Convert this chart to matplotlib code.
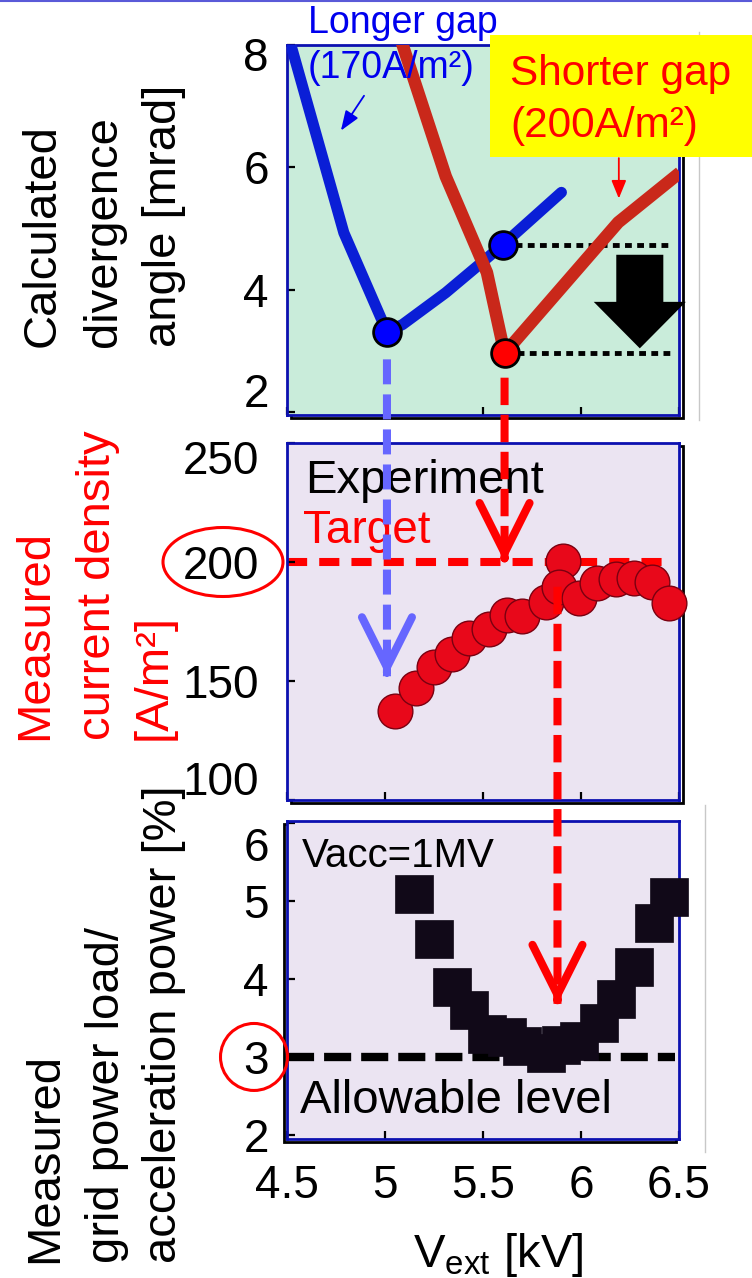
import matplotlib
matplotlib.use('Agg')
import matplotlib.pyplot as plt
import matplotlib.transforms as mtransforms
from matplotlib.patches import Rectangle, Ellipse, ConnectionPatch
from matplotlib.lines import Line2D

plt.rcParams['font.family'] = ['Liberation Sans', 'DejaVu Sans']
plt.rcParams['mathtext.fontset'] = 'custom'
plt.rcParams['mathtext.rm'] = 'Liberation Sans'
plt.rcParams['mathtext.it'] = 'Liberation Sans:italic'

# ---- data ----
# calculated divergence angle [mrad] vs Vext [kV]
longer_gap_v = [4.52, 4.79, 5.01, 5.09, 5.31, 5.60, 5.90]
longer_gap_div = [8.0, 4.93, 3.31, 3.43, 3.95, 4.73, 5.59]
shorter_gap_v = [5.09, 5.31, 5.52, 5.61, 6.19, 6.48]
shorter_gap_div = [8.0, 5.85, 4.28, 2.96, 5.10, 5.85]
longer_pts_v = [5.01, 5.60]
longer_pts_div = [3.31, 4.73]
shorter_pt_v = [5.61]
shorter_pt_div = [2.96]

# measured current density [A/m2]
exp_v = [5.05, 5.16, 5.25, 5.34, 5.43, 5.53, 5.62, 5.70, 5.82, 5.91, 5.89,
         5.99, 6.08, 6.18, 6.27, 6.36, 6.45]
exp_j = [137.4, 147.2, 156.0, 161.2, 167.9, 172.0, 177.7, 177.3, 183.3, 200.5,
         189.6, 184.7, 191.3, 192.7, 193.2, 191.7, 182.6]
target_j = 200

# measured grid power load / acceleration power [%]
load_v = [5.15, 5.25, 5.34, 5.43, 5.52, 5.62, 5.70, 5.82, 5.90, 5.99, 6.09,
          6.18, 6.27, 6.37, 6.45]
load_pct = [5.09, 4.51, 3.90, 3.60, 3.29, 3.26, 3.14, 3.05, 3.15, 3.21, 3.43,
            3.74, 4.15, 4.71, 5.05]
allowable_pct = 3

# where the guide arrows point
longer_gap_j = 152
best_v = 5.88
best_load = 3.68

x_ticks = [4.5, 5, 5.5, 6, 6.5]
x_tick_labels = ['4.5', '5', '5.5', '6', '6.5']
div_ticks = [2, 4, 6, 8]
j_ticks = [100, 150, 200, 250]
load_ticks = [2, 3, 4, 5, 6]

# ---- figure, laid out in pixels ----
W, H = 752, 1278
fig = plt.figure(figsize=(W / 100, H / 100), dpi=100)


def box(left, top, right, bottom):
    return [left / W, 1 - bottom / H, (right - left) / W, (bottom - top) / H]


def fx(px):
    return px / W


def fy(py):
    return 1 - py / H


ax1 = fig.add_axes(box(287, 45, 679, 415))
ax2 = fig.add_axes(box(287, 443, 679, 800))
ax3 = fig.add_axes(box(287, 821, 679, 1139))

for ax, bg in ((ax1, '#c9ecda'), (ax2, '#ebe4f2'), (ax3, '#ebe4f2')):
    ax.set_facecolor(bg)
    ax.set_xlim(4.5, 6.5)
    ax.set_xticks(x_ticks)
    for s in ax.spines.values():
        s.set_color('#0c10b0')
        s.set_linewidth(2)
    ax.tick_params(direction='in', length=6, width=1.6, colors='black',
                   labelsize=33, top=False, right=False)

# black "shadow" frame lines
for ax, dx, dy in ((ax1, 4, -3), (ax2, 4, -3), (ax3, -3, -3)):
    tr = mtransforms.offset_copy(ax.transAxes, fig=fig, x=dx, y=dy, units='dots')
    fig.add_artist(Rectangle((0, 0), 1, 1, transform=tr, fill=False,
                             ec='black', lw=2, zorder=-1))

# ---- top: calculated divergence ----
ax1.set_ylim(1.95, 8.0)
ax1.set_yticks(div_ticks)
ax1.tick_params(labelbottom=False, pad=13)
ax1.plot(longer_gap_v, longer_gap_div, color='#0a1ed6', lw=8,
         solid_capstyle='round', solid_joinstyle='round', zorder=3)
ax1.plot(shorter_gap_v, shorter_gap_div, color='#c9281a', lw=9,
         solid_joinstyle='round', zorder=3)
for v, d in ((longer_pts_v[1], longer_pts_div[1]), (shorter_pt_v[0], shorter_pt_div[0])):
    ax1.plot([v, 6.46], [d, d], color='black', lw=3.5, ls=(0, (1.4, 1.1)), zorder=2.5)
ax1.plot(longer_pts_v, longer_pts_div, 'o', ms=20, mfc='#0000ff', mec='black',
         mew=2, zorder=4)
ax1.plot(shorter_pt_v, shorter_pt_div, 'o', ms=20, mfc='#ff0000', mec='black',
         mew=2, zorder=4)
ax1.arrow(6.30, 4.57, 0, -1.53, width=0.24, head_width=0.47, head_length=0.76,
          length_includes_head=True, fc='black', ec='none', clip_on=False, zorder=3)
ax1.annotate('', xy=(4.775, 6.60), xytext=(4.893, 7.17),
             arrowprops=dict(arrowstyle='-|>,head_length=1.2,head_width=0.45',
                             mutation_scale=10, lw=1.3, color='#0000ee',
                             shrinkA=0, shrinkB=0))
ax1.annotate('', xy=(6.193, 5.49), xytext=(6.193, 6.15),
             arrowprops=dict(arrowstyle='-|>,head_length=1.1,head_width=0.45',
                             mutation_scale=10, lw=1.3, color='#ff0000',
                             shrinkA=0, shrinkB=0))

# ---- middle: measured current density ----
ax2.set_ylim(100, 250)
ax2.set_yticks(j_ticks)
ax2.tick_params(labelbottom=False, pad=20)
ax2.axhline(target_j, xmax=0.977, color='#ff0000', lw=5.8, ls=(0, (2.5, 1.5)),
            zorder=1.5)
ax2.plot(exp_v, exp_j, 'o', ms=25, mfc='#e8081a', mec='#7a0010', mew=1,
         clip_on=False, zorder=3)

# ---- bottom: grid power load ----
ax3.set_ylim(1.95, 6.02)
ax3.set_yticks(load_ticks)
ax3.set_xticklabels(x_tick_labels)
ax3.tick_params(axis='y', pad=13)
ax3.tick_params(axis='x', pad=18)
ax3.axhline(allowable_pct, xmax=0.99, color='black', lw=6, ls=(0, (3.25, 1.2)),
            zorder=2)
ax3.plot(load_v, load_pct, 's', ms=27, mfc='#110918', mec='#110918', mew=0.5,
         clip_on=False, zorder=3)

# ---- dashed guide arrows running across the panels ----
def v_link(axA, xyA, axB, xyB, color, dashes):
    con = ConnectionPatch(xyA=xyA, coordsA=axA.transData, xyB=xyB,
                          coordsB=axB.transData, color=color, lw=5.8,
                          ls=(0, dashes), capstyle='butt', zorder=5)
    fig.add_artist(con)


def v_head(ax, xy, color):
    ax.annotate('', xy=xy, xytext=(0, 3), textcoords='offset points',
                arrowprops=dict(arrowstyle='->,head_length=3.6,head_width=1.8',
                                mutation_scale=10, lw=5.8, color=color,
                                shrinkA=0, shrinkB=0, capstyle='round'),
                zorder=6)


v_link(ax1, (longer_pts_v[0], longer_pts_div[0] - 0.45), ax2,
       (longer_pts_v[0], longer_gap_j), '#6666ff', (3.1, 1.25))
v_head(ax2, (longer_pts_v[0], longer_gap_j), '#6666ff')
v_link(ax1, (shorter_pt_v[0], shorter_pt_div[0] - 0.4), ax2,
       (shorter_pt_v[0], target_j), '#ff0000', (3.4, 1.2))
v_head(ax2, (shorter_pt_v[0], target_j), '#ff0000')
v_link(ax2, (best_v, exp_j[10]), ax3, (best_v, best_load), '#ff0000', (3.4, 1.2))
v_head(ax3, (best_v, best_load), '#ff0000')

# ---- labels and notes ----
fig.add_artist(Rectangle((fx(490), fy(157)), (752 - 490) / W, (157 - 35) / H,
                         transform=fig.transFigure, fc='#ffff00', ec='none', zorder=8))
fig.text(fx(510), fy(85), 'Shorter gap', color='#ff0000', fontsize=30.5, zorder=10)
fig.text(fx(510), fy(137), '(200A/m²)', color='#ff0000', fontsize=30.5, zorder=10)
fig.text(fx(308), fy(33), 'Longer gap', color='#0000ee', fontsize=27, zorder=10)
fig.text(fx(308), fy(78), '(170A/m²)', color='#0000ee', fontsize=27, zorder=10)
fig.text(fx(305), fy(493), 'Experiment', color='black', fontsize=34, zorder=4)
fig.text(fx(303), fy(543), 'Target', color='#ff0000', fontsize=33, zorder=4)
fig.text(fx(302), fy(867), 'Vacc=1MV', color='black', fontsize=29, zorder=4)
fig.text(fx(300), fy(1113), 'Allowable level', color='black', fontsize=34, zorder=4)

ylabels = [
    (['Calculated', 'divergence', 'angle [mrad]'], [43, 104, 164], 347, 'black'),
    (['Measured', 'current density', '[A/m²]'], [35, 98, 154], 740, '#ff0000'),
    (['Measured', 'grid power load/', 'acceleration power [%]'], [45, 107, 164], 1263, 'black'),
]
for lines, xs, bottom, col in ylabels:
    for txt, x in zip(lines, xs):
        fig.text(fx(x), fy(bottom), txt, rotation=90, ha='center', va='bottom',
                 color=col, fontsize=34)

fig.text(fx(498), fy(1267), r'V$_{\mathrm{ext}}$ [kV]', fontsize=34,
         ha='center', va='baseline')

# red rings round the key tick values
y200 = ax2.transData.transform((5, target_j))[1]
fig.add_artist(Ellipse((fx(223), y200 / H), 120 / W, 69 / H, transform=fig.transFigure,
                       fill=False, ec='#ff0000', lw=2.2, zorder=10))
y3 = ax3.transData.transform((5, allowable_pct))[1]
fig.add_artist(Ellipse((fx(254), y3 / H), 67 / W, 67 / H, transform=fig.transFigure,
                       fill=False, ec='#ff0000', lw=2.2, zorder=10))

# end tick labels sit a little inside the range in the original
def nudge(label, dy):
    label.set_transform(label.get_transform() + mtransforms.Affine2D().translate(0, dy))


t1 = ax1.get_yticklabels()
nudge(t1[-1], -9)
nudge(t1[0], 22)
t2 = ax2.get_yticklabels()
nudge(t2[-1], -14)
nudge(t2[0], 22)
t3 = ax3.get_yticklabels()
nudge(t3[-1], -21)

# frame artefacts of the slide
fig.add_artist(Line2D([0, 1], [fy(1), fy(1)], color='#5a5ad8', lw=1.5))
fig.add_artist(Line2D([fx(699), fx(699)], [fy(32), fy(420)], color='#c8c8c8', lw=1))
fig.add_artist(Line2D([fx(705), fx(705)], [fy(805), fy(1152)], color='#c8c8c8', lw=1))

fig.savefig('out.png', dpi=100)
plt.close(fig)
